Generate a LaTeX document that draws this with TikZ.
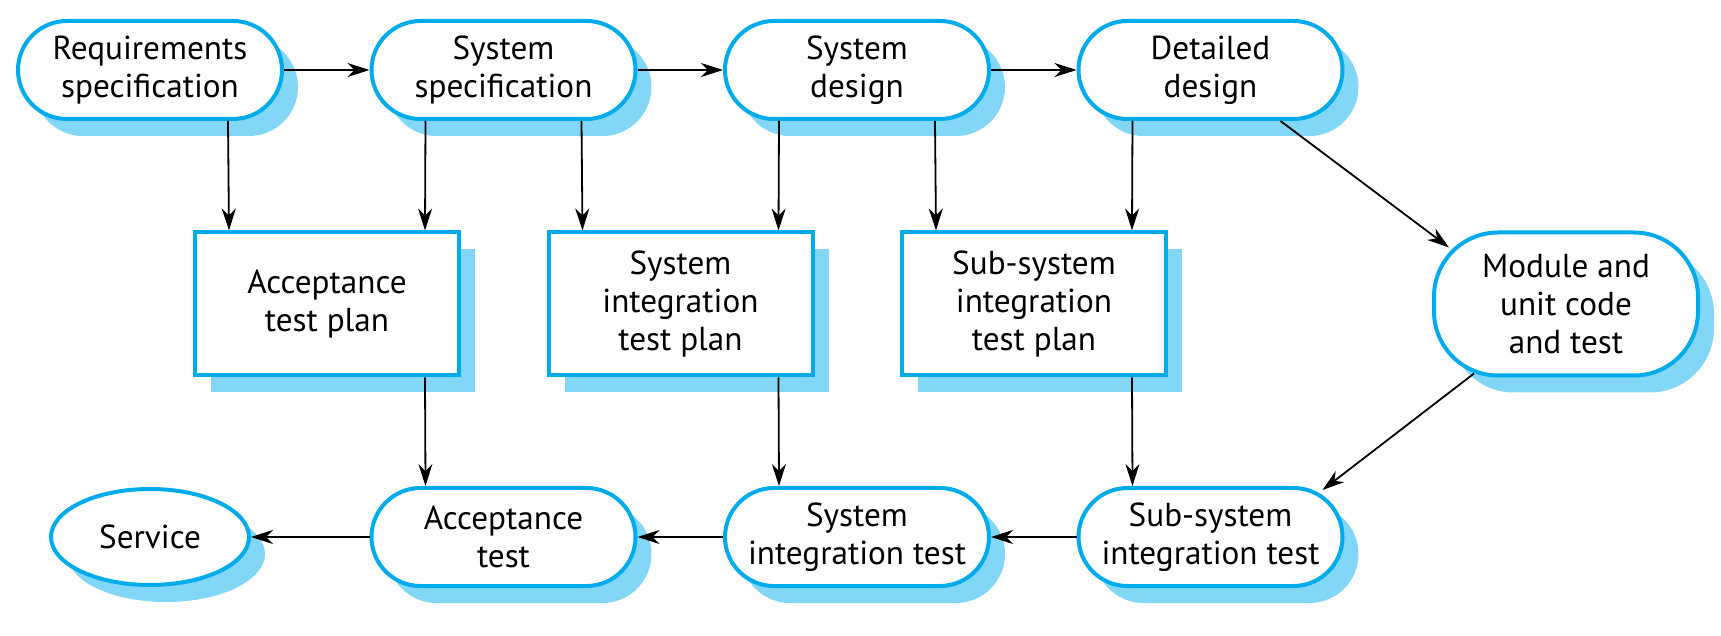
\documentclass[tikz,border=0pt]{standalone}
\usepackage{fontspec}
\setmainfont{PT Sans}
\usetikzlibrary{arrows.meta,shapes.geometric,shadows}
\definecolor{phaseblue}{RGB}{0,171,236}
\definecolor{shadeblue}{RGB}{130,214,246}

\begin{document}
\begin{tikzpicture}[x=0.5pt, y=-0.5pt,
    font=\fontsize{16.6}{19}\selectfont,
    box/.style={draw=phaseblue, line width=2pt, fill=white, align=center,
        minimum width=132pt, inner sep=0pt,
        drop shadow={shadow xshift=8pt, shadow yshift=-8.5pt, fill=shadeblue, opacity=1}},
    phase/.style={box, rounded corners=24.5pt, minimum height=49pt},
    plan/.style={box, minimum height=71.5pt},
    arr/.style={-{Stealth[length=11pt, width=7pt, inset=3.5pt]}, line width=0.9pt}]
    \useasboundingbox (0,0) rectangle (1721,636);
    % specification and design
    \node[phase] (req) at (150, 70) {Requirements\\specification};
    \node[phase] (sspec) at (503.5, 70) {System\\specification};
    \node[phase] (sdes) at (857, 70) {System\\design};
    \node[phase] (det) at (1210.5, 70) {Detailed\\design};
    % test plans
    \node[plan] (atp) at (327, 304) {Acceptance\\test plan};
    \node[plan] (sitp) at (680.5, 304) {System\\integration\\test plan};
    \node[plan] (ssitp) at (1034, 304) {Sub-system\\integration\\test plan};
    \node[box, rounded corners=32pt, minimum height=71.5pt] (mod) at (1566, 304) {Module and\\unit code\\and test};
    % tests
    \node[box, ellipse, minimum width=99pt, minimum height=48pt] (serv) at (150, 537) {Service};
    \node[phase] (at) at (503.5, 537) {Acceptance\\test};
    \node[phase] (sit) at (857, 537) {System\\integration test};
    \node[phase] (ssit) at (1210.5, 537) {Sub-system\\integration test};

    \draw[arr] (req) -- (sspec);
    \draw[arr] (sspec) -- (sdes);
    \draw[arr] (sdes) -- (det);
    \draw[arr] ([xshift=39pt]req.south) -- ([xshift=-49pt]atp.north);
    \draw[arr] ([xshift=-39pt]sspec.south) -- ([xshift=49pt]atp.north);
    \draw[arr] ([xshift=39pt]sspec.south) -- ([xshift=-49pt]sitp.north);
    \draw[arr] ([xshift=-39pt]sdes.south) -- ([xshift=49pt]sitp.north);
    \draw[arr] ([xshift=39pt]sdes.south) -- ([xshift=-49pt]ssitp.north);
    \draw[arr] ([xshift=-39pt]det.south) -- ([xshift=49pt]ssitp.north);
    \draw[arr] ([xshift=35pt]det.south) -- ([xshift=8.5pt, yshift=-8.5pt]mod.north west);
    \draw[arr] ([xshift=49pt]atp.south) -- ([xshift=-39pt]at.north);
    \draw[arr] ([xshift=49pt]sitp.south) -- ([xshift=-39pt]sit.north);
    \draw[arr] ([xshift=49pt]ssitp.south) -- ([xshift=-39pt]ssit.north);
    \draw[arr] ([xshift=21pt, yshift=2pt]mod.south west) -- ([xshift=-11pt, yshift=-2pt]ssit.north east);
    \draw[arr] (ssit) -- (sit);
    \draw[arr] (sit) -- (at);
    \draw[arr] (at) -- (serv);
\end{tikzpicture}
\end{document}
